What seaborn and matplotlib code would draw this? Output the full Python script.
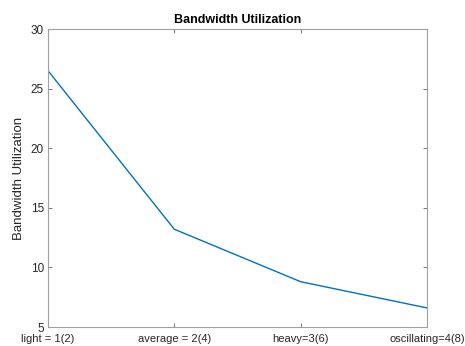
import matplotlib
matplotlib.use("Agg")
import matplotlib.pyplot as plt
import seaborn as sns
import pandas as pd

# Workload scenarios and measured bandwidth utilization
levels = [1, 2, 3, 4]
tick_labels = ["light = 1(2)", "average = 2(4)", "heavy=3(6)", "oscillating=4(8)"]
utilization = [26.5, 13.2, 8.8, 6.6]

sns.set_theme(style="white")
plt.rcParams["font.family"] = ["Liberation Sans", "DejaVu Sans"]

df = pd.DataFrame({"level": levels, "util": utilization})

fig = plt.figure(figsize=(4.65, 3.46), dpi=100)
ax = fig.add_axes([48 / 465, 1 - 327 / 346, (427 - 48) / 465, (327 - 29) / 346])

sns.lineplot(data=df, x="level", y="util", ax=ax, color="#0072BD", linewidth=1.0)

ax.set_xlim(1, 4)
ax.set_ylim(5, 30)
ax.set_xticks(levels)
ax.set_xticklabels(tick_labels)
ax.set_yticks([5, 10, 15, 20, 25, 30])

ax.set_xlabel("")
ax.set_ylabel("Bandwidth Utilization", fontsize=9.5, color="#262626", labelpad=4)
ax.set_title("Bandwidth Utilization", fontsize=9, fontweight="bold", color="black", pad=4)

for s in ax.spines.values():
    s.set_color("#a0a0a0")
    s.set_linewidth(0.8)

ax.tick_params(axis="both", which="both", direction="in", length=3, width=0.6,
               color="#606060", labelcolor="#262626",
               top=True, right=True, bottom=True, left=True)
ax.tick_params(axis="x", pad=5, labelsize=8)
ax.tick_params(axis="y", pad=3, labelsize=8.5)

fig.savefig("out.png", dpi=100)
